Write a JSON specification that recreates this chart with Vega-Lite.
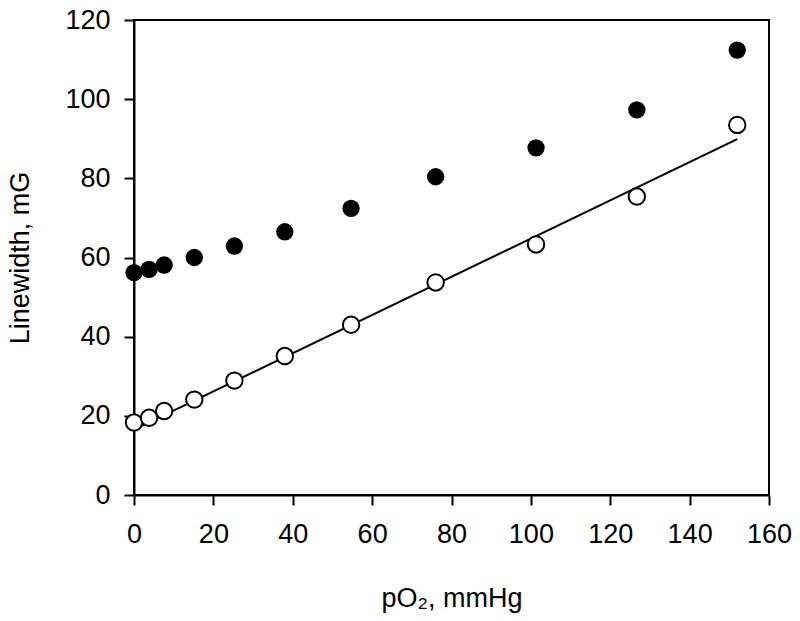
{
  "$schema": "https://vega.github.io/schema/vega-lite/v6.json",
  "width": 635,
  "height": 475,
  "autosize": "none",
  "padding": {"left": 134, "top": 20, "right": 31, "bottom": 126},
  "background": "white",
  "config": {
    "view": {"stroke": "black", "strokeWidth": 2},
    "axis": {
      "grid": false,
      "domainColor": "black",
      "domainWidth": 2,
      "tickColor": "black",
      "tickWidth": 2,
      "tickSize": 10,
      "labelFont": "Liberation Sans",
      "labelFontSize": 27,
      "labelColor": "black",
      "labelFlush": false,
      "labelOverlap": false,
      "titleFont": "Liberation Sans",
      "titleFontSize": 27,
      "titleFontWeight": "normal",
      "titleColor": "black"
    }
  },
  "datasets": {
    "filled": [
      {"pO2": 0, "lw": 56.2},
      {"pO2": 3.8, "lw": 57.0},
      {"pO2": 7.6, "lw": 58.1},
      {"pO2": 15.2, "lw": 60.0},
      {"pO2": 25.3, "lw": 62.9},
      {"pO2": 38, "lw": 66.5},
      {"pO2": 54.7, "lw": 72.4},
      {"pO2": 76, "lw": 80.4},
      {"pO2": 101.3, "lw": 87.7},
      {"pO2": 126.7, "lw": 97.3},
      {"pO2": 152, "lw": 112.4}
    ],
    "open": [
      {"pO2": 0, "lw": 18.3},
      {"pO2": 3.8, "lw": 19.5},
      {"pO2": 7.6, "lw": 21.2},
      {"pO2": 15.2, "lw": 24.1},
      {"pO2": 25.3, "lw": 28.9},
      {"pO2": 38, "lw": 35.1},
      {"pO2": 54.7, "lw": 43.0},
      {"pO2": 76, "lw": 53.7},
      {"pO2": 101.3, "lw": 63.3},
      {"pO2": 126.7, "lw": 75.4},
      {"pO2": 152, "lw": 93.5}
    ],
    "fit": [
      {"pO2": 0, "lw": 16.5},
      {"pO2": 152, "lw": 89.9}
    ]
  },
  "encoding": {
    "x": {
      "field": "pO2",
      "type": "quantitative",
      "scale": {"domain": [0, 160], "nice": false, "zero": false},
      "axis": {"title": "pO₂, mmHg", "values": [0, 20, 40, 60, 80, 100, 120, 140, 160], "labelPadding": 16, "titlePadding": 38}
    },
    "y": {
      "field": "lw",
      "type": "quantitative",
      "scale": {"domain": [0, 120], "nice": false},
      "axis": {"title": "Linewidth, mG", "values": [0, 20, 40, 60, 80, 100, 120], "labelPadding": 14, "titlePadding": 30}
    }
  },
  "layer": [
    {
      "data": {"name": "filled"},
      "mark": {"type": "point", "shape": "circle", "filled": true, "color": "black", "size": 300, "opacity": 1}
    },
    {
      "data": {"name": "fit"},
      "mark": {"type": "line", "color": "black", "strokeWidth": 2}
    },
    {
      "data": {"name": "open"},
      "mark": {"type": "point", "shape": "circle", "filled": true, "fill": "white", "stroke": "black", "strokeWidth": 2, "size": 270, "opacity": 1}
    }
  ]
}
